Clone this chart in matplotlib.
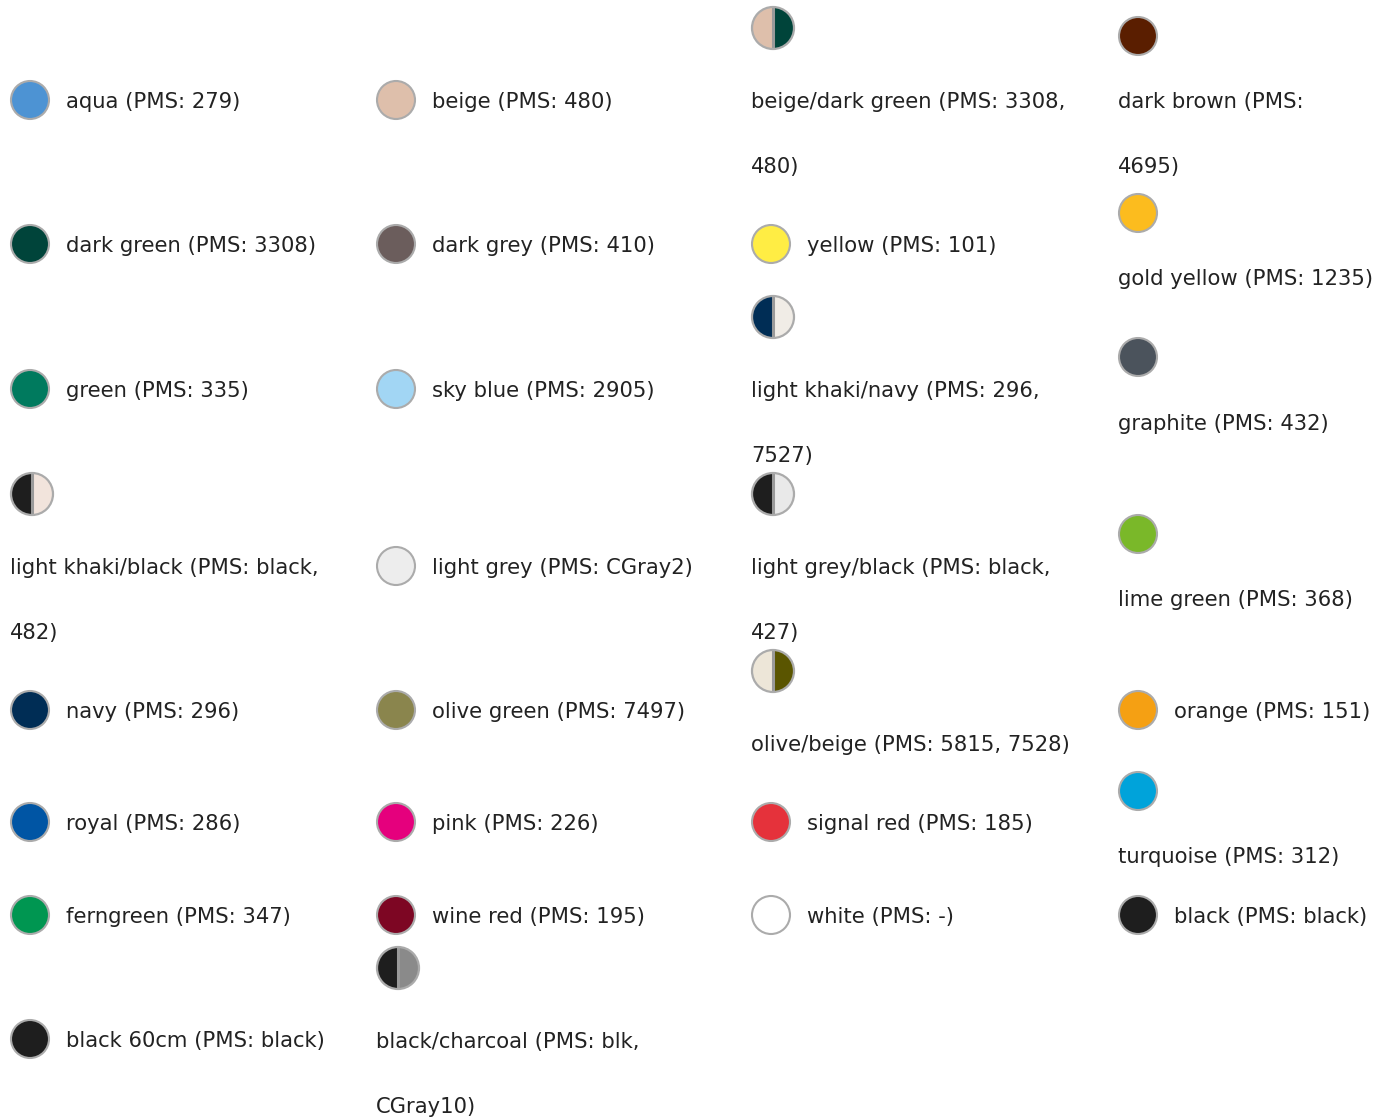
import matplotlib
matplotlib.use("Agg")
import matplotlib.pyplot as plt
from matplotlib.patches import Circle, Wedge

# ---------------- data ----------------
names = ["aqua", "beige", "beige/dark green", "dark brown",
         "dark green", "dark grey", "yellow", "gold yellow",
         "green", "sky blue", "light khaki/navy", "graphite",
         "light khaki/black", "light grey", "light grey/black", "lime green",
         "navy", "olive green", "olive/beige", "orange",
         "royal", "pink", "signal red", "turquoise",
         "ferngreen", "wine red", "white", "black",
         "black 60cm", "black/charcoal"]
pms = ["279", "480", "3308, 480", "4695",
       "3308", "410", "101", "1235",
       "335", "2905", "296, 7527", "432",
       "black, 482", "CGray2", "black, 427", "368",
       "296", "7497", "5815, 7528", "151",
       "286", "226", "185", "312",
       "347", "195", "-", "black",
       "black", "blk, CGray10"]
left_colors = ["#4D93D3", "#DEBFAB", "#DEBFAB", "#5A1E00",
               "#00443A", "#6B5D5C", "#FFED44", "#FCBC1E",
               "#007A5E", "#A2D6F4", "#002D55", "#4B535C",
               "#1E1E1E", "#EDEDED", "#1E1E1E", "#7AB829",
               "#002D55", "#8A854D", "#EDE6D8", "#F5A013",
               "#0055A4", "#E5007D", "#E5323B", "#00A3DA",
               "#009651", "#7D0623", "#FFFFFF", "#1E1E1E",
               "#1E1E1E", "#1E1E1E"]
right_colors = [None, None, "#00443A", None,
                None, None, None, None,
                None, None, "#F0ECE6", None,
                "#F2E4DC", None, "#E9E9E9", None,
                None, None, "#5A5500", None,
                None, None, None, None,
                None, None, None, None,
                None, "#8A8A8A"]

# ---------------- layout (pixel grid of the swatch page) ----------------
col_left = [10, 376, 751, 1118]
# (column, stacked?, circle centre y, first text line y, words on first line or 0)
layout = [(0, False, 100, 100, 0), (1, False, 100, 100, 0), (2, True, 28, 100, 4), (3, True, 36, 100, 3),
          (0, False, 244, 244, 0), (1, False, 244, 244, 0), (2, False, 244, 244, 0), (3, True, 213, 277, 0),
          (0, False, 389, 389, 0), (1, False, 389, 389, 0), (2, True, 317, 389, 4), (3, True, 357, 422, 0),
          (0, True, 494, 566, 4), (1, False, 566, 566, 0), (2, True, 494, 566, 4), (3, True, 534, 598, 0),
          (0, False, 710, 710, 0), (1, False, 710, 710, 0), (2, True, 671, 743, 0), (3, False, 710, 710, 0),
          (0, False, 822, 822, 0), (1, False, 822, 822, 0), (2, False, 822, 822, 0), (3, True, 791, 855, 0),
          (0, False, 915, 915, 0), (1, False, 915, 915, 0), (2, False, 915, 915, 0), (3, False, 915, 915, 0),
          (0, False, 1039, 1039, 0), (1, True, 968, 1040, 3)]

W, H = 1386, 1117
fig = plt.figure(figsize=(W / 100, H / 100), dpi=100)
ax = fig.add_axes([0, 0, 1, 1])
ax.set_xlim(0, W)
ax.set_ylim(H, 0)
ax.set_aspect("equal")
ax.axis("off")

edge = "#ABABAB"
txt_color = "#222222"
fs = 15.2
line_gap = 65

for name, code, lc, rc, (col, stacked, cy, ty, brk) in zip(
        names, pms, left_colors, right_colors, layout):
    x0 = col_left[col]
    label = f"{name} (PMS: {code})"
    if rc is None:
        r = 19
        cx = x0 + 20
        ax.add_patch(Circle((cx, cy), r, facecolor=lc, edgecolor=edge, lw=1.5, zorder=2))
    else:
        r = 21
        cx = x0 + 22
        ax.add_patch(Wedge((cx, cy), r, 90, 270, facecolor=lc, edgecolor="none", zorder=2))
        ax.add_patch(Wedge((cx, cy), r, 270, 90, facecolor=rc, edgecolor="none", zorder=2))
        ax.plot([cx, cx], [cy - r, cy + r], color="#9A9A9A", lw=2.2, zorder=3,
                solid_capstyle="butt")
        ax.add_patch(Circle((cx, cy), r, facecolor="none", edgecolor=edge, lw=1.6, zorder=4))
    if stacked:
        words = label.split(" ")
        if brk:
            lines = [" ".join(words[:brk]), " ".join(words[brk:])]
        else:
            lines = [label]
        tx = x0
    else:
        lines = [label]
        tx = x0 + 56
    for i, line in enumerate(lines):
        ax.text(tx, ty + 8 + i * line_gap, line, fontsize=fs, color=txt_color,
                ha="left", va="baseline", family="DejaVu Sans")

fig.savefig("out.png", dpi=100, facecolor="white")
